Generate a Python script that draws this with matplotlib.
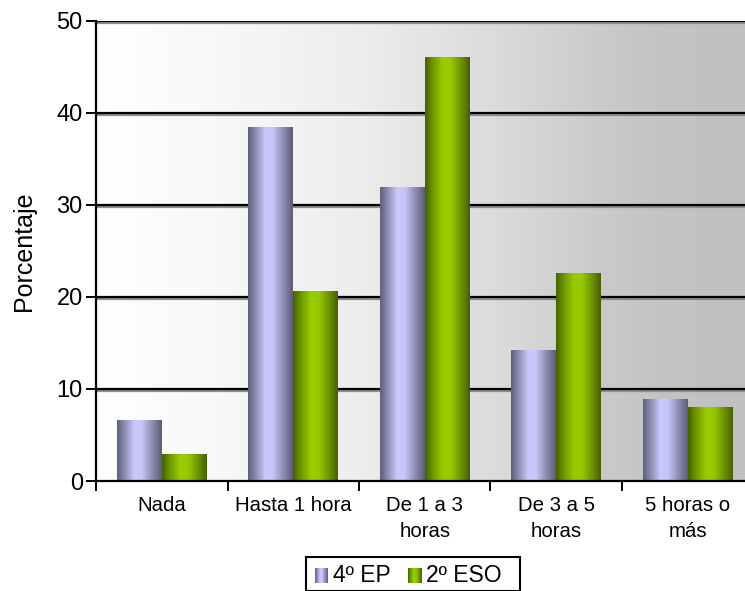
import numpy as np
import matplotlib
matplotlib.use("Agg")
import matplotlib.pyplot as plt
from matplotlib.colors import LinearSegmentedColormap
import matplotlib.patheffects as pe
from matplotlib.patches import Rectangle

categories = ["Nada", "Hasta 1 hora", "De 1 a 3\nhoras", "De 3 a 5\nhoras", "5 horas o\nmás"]
series_names = ["4º EP", "2º ESO"]
ep_values = [6.6, 38.4, 31.9, 14.2, 8.9]
eso_values = [2.9, 20.6, 46.0, 22.5, 8.0]
y_ticks = [0, 10, 20, 30, 40, 50]

plt.rcParams["font.family"] = ["Liberation Sans", "DejaVu Sans"]

# cylinder-like horizontal shading for each series
cmap_ep = LinearSegmentedColormap.from_list(
    "ep", [(0.0, "#5e5e7c"), (0.18, "#8f8fb4"), (0.38, "#c8c8fc"),
           (0.55, "#c6c6fa"), (0.8, "#8a8aae"), (1.0, "#5c5c78")])
cmap_eso = LinearSegmentedColormap.from_list(
    "eso", [(0.0, "#466200"), (0.18, "#6f9800"), (0.4, "#98cc00"),
            (0.58, "#96c800"), (0.82, "#6a9000"), (1.0, "#465e00")])
bg_cmap = LinearSegmentedColormap.from_list(
    "bg", [(0.0, "#ffffff"), (0.16, "#f9f9f9"), (0.4, "#ededed"),
           (0.6, "#dcdcdc"), (0.77, "#cacaca"), (0.87, "#c3c3c3"), (1.0, "#c0c0c0")])

fig = plt.figure(figsize=(7.45, 5.91), dpi=100)
ax = fig.add_axes([96 / 745, 1 - 481 / 591, 657.5 / 745, 460 / 591])

ramp = np.linspace(0, 1, 256).reshape(1, -1)
ax.imshow(ramp, cmap=bg_cmap, extent=(0, 1, 0, 1), transform=ax.transAxes,
          aspect="auto", zorder=0)

x = np.arange(len(categories))
width = 0.342
bars_ep = ax.bar(x - width / 2, ep_values, width, color="none", zorder=3)
bars_eso = ax.bar(x + width / 2, eso_values, width, color="none", zorder=3)

for bars, cm in ((bars_ep, cmap_ep), (bars_eso, cmap_eso)):
    for r in bars:
        x0, w, h = r.get_x(), r.get_width(), r.get_height()
        ax.imshow(ramp, cmap=cm, extent=(x0, x0 + w, 0, h), aspect="auto", zorder=3)

for yv in y_ticks[1:]:
    ax.axhline(yv, color="black", lw=1.6, zorder=2,
               path_effects=[pe.SimpleLineShadow(offset=(0, -1.2), shadow_color="#8c8c8c", alpha=1),
                             pe.Normal()])

ax.set_xlim(-0.5, len(categories) - 0.5)
ax.set_ylim(0, 50)

ax.set_yticks(y_ticks)
ax.tick_params(axis="y", direction="out", length=7.5, width=1.4, pad=2, labelsize=17)

ax.set_xticks(np.arange(len(categories) + 1) - 0.5)
ax.set_xticklabels([])
ax.set_xticks(x, minor=True)
ax.set_xticklabels(categories, minor=True, fontsize=14.7, linespacing=1.45)
ax.tick_params(axis="x", which="major", direction="out", length=7, width=1.4)
ax.tick_params(axis="x", which="minor", length=0, pad=11)

ax.set_ylabel("Porcentaje", fontsize=18, labelpad=15)

for side in ("top", "right"):
    ax.spines[side].set_visible(False)
for side in ("left", "bottom"):
    ax.spines[side].set_linewidth(1.6)
    ax.spines[side].set_zorder(5)

# legend box below the plot
fig.patches.append(Rectangle((306 / 745, 0), 214 / 745, 34 / 591, transform=fig.transFigure,
                             facecolor="white", edgecolor="black", lw=1.5, zorder=-1))
leg_items = [(315, cmap_ep, series_names[0]), (408, cmap_eso, series_names[1])]
for px, cm, label in leg_items:
    lax = fig.add_axes([px / 745, 1 - 583 / 591, 13 / 745, 15 / 591])
    lax.imshow(ramp, cmap=cm, aspect="auto", extent=(0, 1, 0, 1))
    lax.set_axis_off()
    fig.text((px + 18) / 745, 1 - 575.5 / 591, label, fontsize=16.5, va="center", ha="left")

fig.savefig("out.png", dpi=100)
